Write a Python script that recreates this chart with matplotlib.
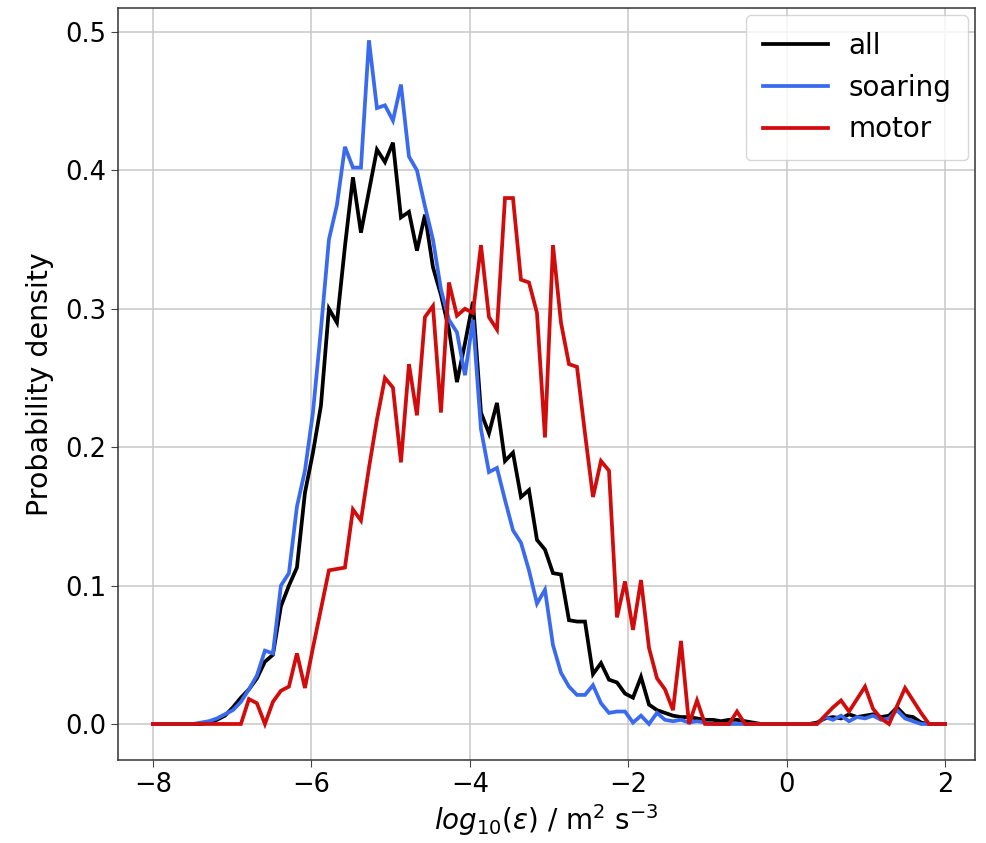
import numpy as np
import matplotlib
matplotlib.use("Agg")
import matplotlib.pyplot as plt

# bin positions of the density curves (log10 epsilon)
x_bins = np.linspace(-8, 2, 100)

all_density = [
    0, 0, 0, 0, 0, 0, 0, 0.001, 0.003, 0.006,
    0.012, 0.019, 0.025, 0.033, 0.045, 0.05, 0.085, 0.10, 0.113, 0.167,
    0.196, 0.23, 0.30, 0.290, 0.345, 0.395, 0.355, 0.385, 0.415, 0.406,
    0.42, 0.366, 0.37, 0.342, 0.368, 0.33, 0.31, 0.285, 0.247, 0.275,
    0.305, 0.225, 0.21, 0.232, 0.19, 0.196, 0.164, 0.169, 0.133, 0.126,
    0.109, 0.108, 0.075, 0.074, 0.074, 0.036, 0.044, 0.032, 0.03, 0.022,
    0.019, 0.034, 0.014, 0.01, 0.008, 0.006, 0.005, 0.005, 0.004, 0.003,
    0.003, 0.002, 0.003, 0.003, 0.002, 0.001, 0, 0, 0, 0,
    0, 0, 0, 0.001, 0.004, 0.005, 0.004, 0.007, 0.005, 0.006,
    0.007, 0.005, 0.006, 0.012, 0.006, 0.005, 0.001, 0, 0, 0,
]

soaring_density = [
    0, 0, 0, 0, 0, 0, 0.001, 0.002, 0.004, 0.007,
    0.01, 0.016, 0.025, 0.035, 0.053, 0.051, 0.10, 0.109, 0.157, 0.183,
    0.225, 0.285, 0.35, 0.375, 0.417, 0.402, 0.402, 0.494, 0.445, 0.447,
    0.436, 0.462, 0.41, 0.40, 0.374, 0.35, 0.314, 0.292, 0.283, 0.252,
    0.292, 0.213, 0.182, 0.185, 0.162, 0.14, 0.131, 0.111, 0.087, 0.097,
    0.057, 0.037, 0.027, 0.021, 0.021, 0.028, 0.015, 0.008, 0.009, 0.009,
    0.001, 0.006, 0.0, 0.008, 0.003, 0.002, 0.003, 0.001, 0.002, 0.001,
    0, 0, 0, 0, 0, 0, 0, 0, 0, 0,
    0, 0, 0, 0.0, 0.005, 0.003, 0.006, 0.002, 0.005, 0.004,
    0.006, 0.003, 0.004, 0.01, 0.004, 0.002, 0.0, 0, 0, 0,
]

motor_density = [
    0, 0, 0, 0, 0, 0, 0, 0, 0, 0,
    0, 0, 0.018, 0.015, 0.0, 0.016, 0.024, 0.027, 0.051, 0.026,
    0.055, 0.083, 0.111, 0.112, 0.113, 0.155, 0.147, 0.185, 0.22, 0.25,
    0.243, 0.189, 0.26, 0.223, 0.294, 0.302, 0.225, 0.319, 0.295, 0.30,
    0.297, 0.346, 0.294, 0.285, 0.38, 0.38, 0.321, 0.319, 0.297, 0.207,
    0.346, 0.29, 0.26, 0.258, 0.21, 0.164, 0.19, 0.183, 0.077, 0.103,
    0.068, 0.104, 0.055, 0.033, 0.025, 0.01, 0.06, 0.0, 0.017, 0.0,
    0, 0, 0, 0.009, 0, 0, 0, 0, 0, 0,
    0, 0, 0, 0, 0.006, 0.012, 0.017, 0.009, 0.018, 0.027,
    0.011, 0.004, 0.0, 0.013, 0.026, 0.017, 0.008, 0, 0, 0,
]

series_labels = ["all", "soaring", "motor"]
series_colors = ["#000000", "#3a6bef", "#d10c0c"]
x_ticks = [-8, -6, -4, -2, 0, 2]
y_ticks = [0.0, 0.1, 0.2, 0.3, 0.4, 0.5]

fig = plt.figure(figsize=(9.87, 8.43), dpi=100)
ax = fig.add_axes([0.1196, 0.0985, 0.8684, 0.892])

for vals, lab, col in zip([all_density, soaring_density, motor_density],
                          series_labels, series_colors):
    ax.plot(x_bins, vals, color=col, lw=2.7, label=lab, solid_joinstyle="miter")

ax.set_xlim(-8.44, 2.38)
ax.set_ylim(-0.026, 0.5173)
ax.set_xticks(x_ticks)
ax.set_yticks(y_ticks)
ax.set_xticklabels([f"{t}".replace("-", "\u2212") for t in x_ticks])
ax.set_yticklabels([f"{t:.1f}" for t in y_ticks])
ax.tick_params(labelsize=18.5, length=5, color="#444444")
ax.grid(True, color="#c8c8c8", lw=1.1)
ax.set_axisbelow(True)
for sp in ax.spines.values():
    sp.set_color("#333333")
    sp.set_linewidth(1.1)

ax.set_xlabel(r"$log_{10}(\varepsilon)$ / m$^2$ s$^{-3}$", fontsize=20, labelpad=3)
ax.set_ylabel("Probability density", fontsize=20.5, labelpad=8)

leg = ax.legend(loc="upper right", fontsize=20, frameon=True, handlelength=2.35,
                handletextpad=0.75, borderpad=0.6, labelspacing=0.5,
                borderaxespad=0.25)
leg.get_frame().set_edgecolor("#cccccc")

fig.savefig("out.png", dpi=100)
